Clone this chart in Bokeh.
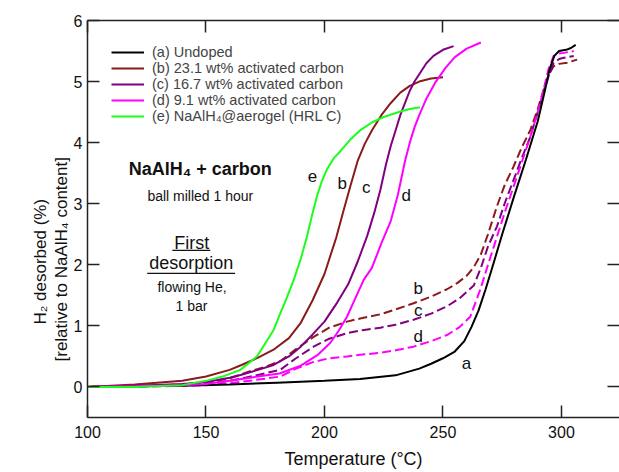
from bokeh.plotting import figure
from bokeh.models import Range1d, LinearAxis, FixedTicker, CustomJSTickFormatter, Label, Title
from bokeh.embed import file_html
from bokeh.resources import INLINE

FONT = "Liberation Sans"

# ---- data ----
x_ticks = [100, 150, 200, 250, 300]
y_ticks = [0, 1, 2, 3, 4, 5, 6]

a_T = [100, 120, 140, 160, 180, 200, 215, 230, 240, 245, 250, 255, 259, 262, 265, 268, 271, 275, 280, 285, 290, 293, 295, 297, 299, 302, 304, 306]
a_H = [0, 0.01, 0.02, 0.04, 0.07, 0.10, 0.13, 0.19, 0.30, 0.38, 0.47, 0.58, 0.75, 0.98, 1.25, 1.6, 1.98, 2.5, 3.12, 3.72, 4.35, 4.85, 5.2, 5.42, 5.5, 5.52, 5.55, 5.6]

b_T = [100, 120, 140, 150, 160, 165, 172, 178.5, 185, 190, 195, 200, 205, 208, 211, 214, 217, 220, 224, 228, 232, 236, 240, 245, 250]
b_H = [0, 0.04, 0.1, 0.17, 0.28, 0.36, 0.48, 0.61, 0.8, 1.05, 1.42, 1.85, 2.45, 2.88, 3.3, 3.7, 3.98, 4.2, 4.45, 4.65, 4.82, 4.93, 5.0, 5.05, 5.07]

c_T = [100, 120, 140, 150, 160, 165, 172, 178.5, 185, 190, 195, 200, 205, 210, 214, 218, 221, 223.6, 226, 228, 230, 232, 234, 236, 238, 240, 243, 246, 250, 254.5]
c_H = [0, 0.02, 0.05, 0.08, 0.15, 0.2, 0.28, 0.36, 0.5, 0.66, 0.86, 1.07, 1.36, 1.68, 2.05, 2.47, 2.85, 3.23, 3.65, 3.95, 4.2, 4.45, 4.65, 4.85, 5.0, 5.12, 5.3, 5.42, 5.52, 5.58]

d_T = [100, 120, 140, 150, 160, 170, 181, 190, 197, 202.4, 206, 209.5, 213, 216.5, 220, 224, 228, 231, 234, 236, 238, 240, 243, 247, 251, 255, 260, 266]
d_H = [0, 0.01, 0.03, 0.05, 0.1, 0.16, 0.22, 0.35, 0.52, 0.72, 0.92, 1.15, 1.45, 1.75, 1.95, 2.35, 2.72, 3.15, 3.7, 4.0, 4.25, 4.45, 4.72, 5.0, 5.22, 5.4, 5.54, 5.64]

e_T = [100, 120, 140, 150, 157, 164.5, 171.5, 178.5, 181.3, 184, 187, 190, 192.6, 195, 196.8, 199, 201, 204, 206.7, 210.9, 215, 220, 225, 232, 236, 240.4]
e_H = [0, 0.0, 0.03, 0.1, 0.17, 0.28, 0.5, 0.93, 1.2, 1.45, 1.75, 2.1, 2.46, 2.85, 3.12, 3.38, 3.56, 3.75, 3.86, 4.05, 4.2, 4.33, 4.42, 4.51, 4.55, 4.58]

bd_T = [100, 120, 140, 150, 160, 168, 175, 181.3, 188, 195.4, 202, 209.5, 216, 223.6, 230, 237.6, 245, 251.7, 256, 260, 263, 266, 269, 272.8, 276, 279.8, 283, 286.9, 290, 292.5, 294.5, 296.7, 299, 302.4, 306.6]
bd_H = [0, 0.01, 0.04, 0.07, 0.14, 0.25, 0.33, 0.42, 0.62, 0.82, 0.97, 1.07, 1.13, 1.19, 1.27, 1.37, 1.48, 1.6, 1.7, 1.82, 1.96, 2.17, 2.5, 2.96, 3.3, 3.61, 3.9, 4.21, 4.55, 4.87, 5.1, 5.25, 5.29, 5.31, 5.36]

cd_T = [100, 120, 140, 150, 160, 170, 181.3, 188, 195.4, 202, 209.5, 216, 223.6, 230, 237.6, 245, 251.7, 257, 263, 266, 269, 272.8, 276, 279.8, 283, 286.9, 290, 292.5, 294.5, 296.7, 299, 301, 305.2]
cd_H = [0, 0.01, 0.03, 0.05, 0.1, 0.18, 0.28, 0.47, 0.66, 0.79, 0.88, 0.93, 0.97, 1.02, 1.1, 1.2, 1.32, 1.45, 1.66, 1.95, 2.3, 2.63, 3.0, 3.39, 3.72, 4.1, 4.5, 4.81, 5.08, 5.3, 5.37, 5.39, 5.42]

dd_T = [100, 120, 140, 150, 160, 170, 181.3, 188, 195.4, 202, 209.5, 216, 223.6, 230, 237.6, 245, 251.7, 257, 261.5, 265.8, 269, 272.8, 276, 279.8, 283, 286.9, 290, 292.5, 294.5, 296.7, 299, 301, 305.2]
dd_H = [0, 0.0, 0.02, 0.03, 0.06, 0.11, 0.17, 0.3, 0.41, 0.47, 0.5, 0.53, 0.56, 0.6, 0.66, 0.75, 0.85, 0.98, 1.15, 1.6, 2.0, 2.46, 2.85, 3.28, 3.65, 4.1, 4.5, 4.87, 5.2, 5.42, 5.46, 5.47, 5.5]

legend_labels = ["(a) Undoped", "(b) 23.1 wt% activated carbon", "(c) 16.7 wt% activated carbon",
                 "(d) 9.1 wt% activated carbon", "(e) NaAlH\u2084@aerogel (HRL C)"]

x_title = "Temperature (\u00b0C)"
y_title_lines = ["H\u2082 desorbed (%)", "[relative to NaAlH\u2084 content]"]

C_A, C_B, C_C, C_D, C_E = "#000000", "#8b1a1a", "#800080", "#ff00ff", "#1aff1a"

p = figure(width=619, height=472, x_range=Range1d(100, 324.5), y_range=Range1d(-0.5, 6),
           output_backend="svg", toolbar_location=None,
           min_border_left=87, min_border_right=0, min_border_top=20, min_border_bottom=55)
p.outline_line_color = None
p.grid.visible = False

xt = FixedTicker(ticks=x_ticks)
yt = FixedTicker(ticks=y_ticks)

def style_axis(ax):
    ax.major_tick_in = 12
    ax.major_tick_out = 0
    ax.minor_tick_line_color = None
    ax.axis_line_width = 1.5
    ax.axis_line_color = "#222222"
    ax.major_tick_line_width = 1.5
    ax.major_tick_line_color = "#222222"
    ax.major_label_text_font = FONT
    ax.major_label_text_font_size = "16px"
    ax.major_label_text_color = "#111111"
    ax.axis_label_text_font = FONT
    ax.axis_label_text_font_size = "18px"
    ax.axis_label_text_font_style = "normal"
    ax.axis_label_text_color = "#111111"

xa = p.xaxis[0]
xa.ticker = xt
style_axis(xa)
xa.axis_label = x_title
xa.major_label_standoff = 8
xa.axis_label_standoff = 8

ya = p.yaxis[0]
ya.ticker = yt
style_axis(ya)
ya.major_label_standoff = 5

top = LinearAxis(ticker=xt, formatter=CustomJSTickFormatter(code="return ''"))
style_axis(top)
top.major_label_standoff = 0
p.add_layout(top, "above")

right = LinearAxis(ticker=yt, formatter=CustomJSTickFormatter(code="return ''"))
style_axis(right)
right.major_label_standoff = 0
right.axis_line_color = None
p.add_layout(right, "right")

# two-line y-axis title as side titles (inner line first), bottom-anchored with offsets
for txt, off in [(y_title_lines[1], 56), (y_title_lines[0], 93)]:
    t = Title(text=txt, align="left", offset=off, standoff=0,
              text_font=FONT, text_font_size="17px", text_font_style="normal",
              text_color="#111111")
    p.add_layout(t, "left")

LW = 2
DASH = "9 4"
p.line(bd_T, bd_H, line_color=C_B, line_width=LW, line_dash=DASH)
p.line(cd_T, cd_H, line_color=C_C, line_width=LW, line_dash=DASH)
p.line(dd_T, dd_H, line_color=C_D, line_width=LW, line_dash=DASH)

p.line(a_T, a_H, line_color=C_A, line_width=LW, legend_label=legend_labels[0])
p.line(b_T, b_H, line_color=C_B, line_width=LW, legend_label=legend_labels[1])
p.line(c_T, c_H, line_color=C_C, line_width=LW, legend_label=legend_labels[2])
p.line(d_T, d_H, line_color=C_D, line_width=LW, legend_label=legend_labels[3])
p.line(e_T, e_H, line_color=C_E, line_width=LW, legend_label=legend_labels[4])

lg = p.legend[0]
lg.location = "top_left"
lg.border_line_color = None
lg.background_fill_alpha = 0
lg.label_text_font = FONT
lg.label_text_font_size = "14.5px"
lg.glyph_width = 33
lg.glyph_height = 16
lg.label_height = 16
lg.spacing = 0
lg.padding = 5
lg.margin = 24
lg.label_standoff = 8

def lab(x, y, t, size, bold=False, align="center", baseline="alphabetic"):
    p.add_layout(Label(x=x, y=y, text=t, text_font=FONT, text_font_size=size,
                       text_font_style="bold" if bold else "normal",
                       text_align=align, text_baseline=baseline, text_color="#111111"))

lab(147.6, 3.575, "NaAlH\u2084 + carbon", "18px", bold=True)
lab(147.6, 3.13, "ball milled 1 hour", "14px")
lab(144.0, 2.36, "First", "18px")
lab(143.8, 2.03, "desorption", "18px")
lab(144.1, 1.64, "flowing He,", "14px")
lab(143.9, 1.33, "1 bar", "14px")

p.segment(x0=[135.8, 125.2], y0=[2.235, 1.86], x1=[151.8, 162.3], y1=[2.235, 1.86],
          line_color="#111111", line_width=1.3)

curve_lbl_T = [194.9, 207.5, 217.6, 234.5, 239.6, 239.6, 239.6, 259.9]
curve_lbl_H = [3.46, 3.33, 3.26, 3.13, 1.61, 1.26, 0.82, 0.39]
curve_lbl_t = ["e", "b", "c", "d", "b", "c", "d", "a"]
for x, y, t in zip(curve_lbl_T, curve_lbl_H, curve_lbl_t):
    lab(x, y, t, "17px", baseline="middle")

open("out.html", "w").write(file_html(p, INLINE))
